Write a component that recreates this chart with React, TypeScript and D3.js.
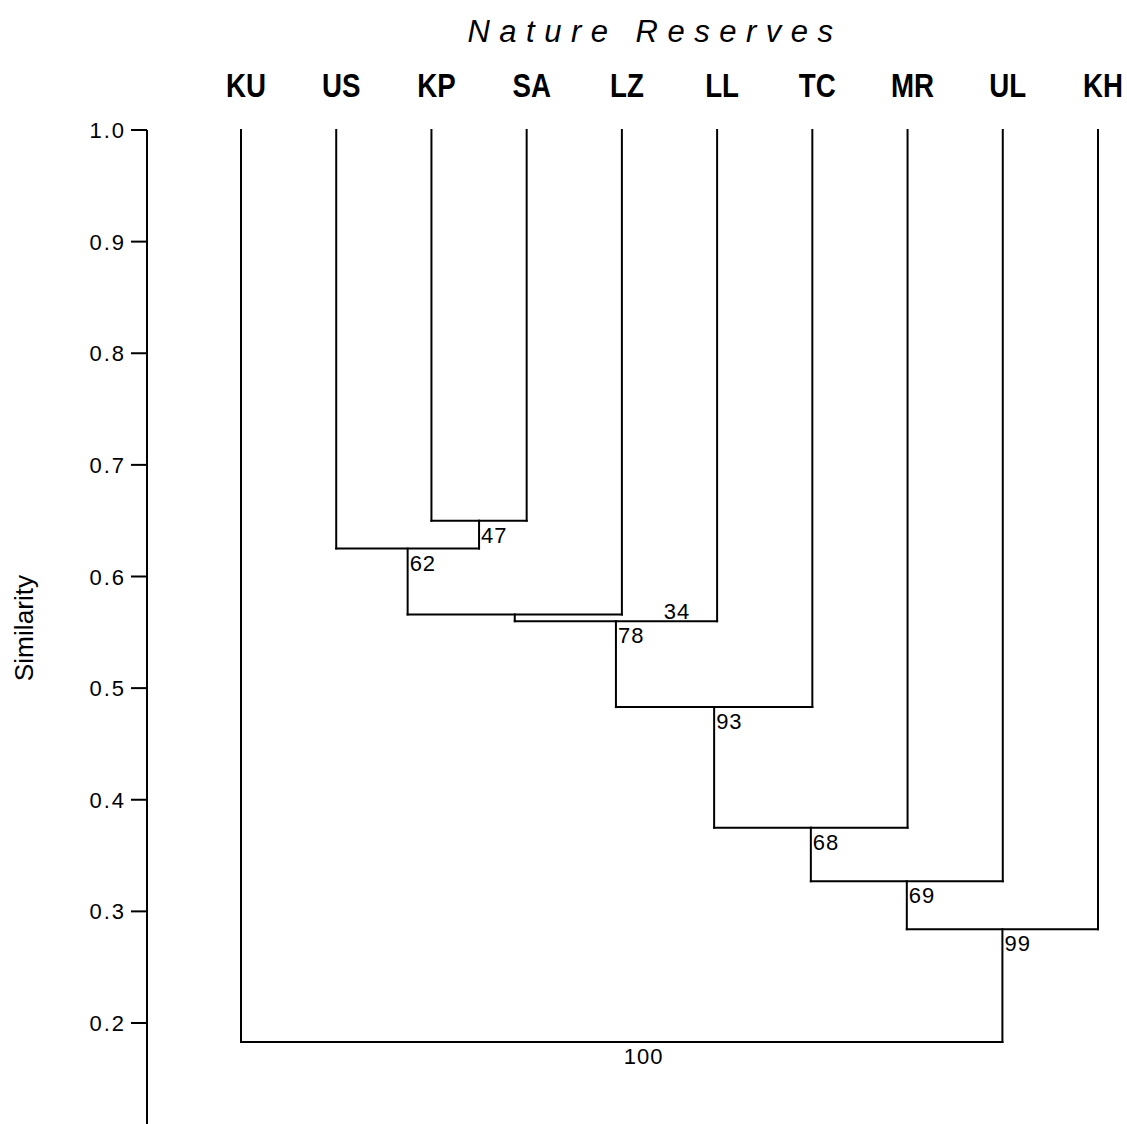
import React from 'react';
import * as d3 from 'd3';

// leaf order along the top
const leaves = ["KU", "US", "KP", "SA", "LZ", "LL", "TC", "MR", "UL", "KH"];

// agglomeration steps: node n{i} is created by step i
const mergeLeft = ["KP", "US", "n1", "n2", "n3", "n4", "n5", "n6", "KU"];
const mergeRight = ["SA", "n0", "LZ", "LL", "TC", "MR", "UL", "KH", "n7"];
const mergeSimilarity = [0.650, 0.625, 0.566, 0.560, 0.483, 0.375, 0.327, 0.284, 0.183];
const bootstrap = [47, 62, 34, 78, 93, 68, 69, 99, 100];

const yTicks = [1.0, 0.9, 0.8, 0.7, 0.6, 0.5, 0.4, 0.3, 0.2];

const width = 1127;
const height = 1124;

const App = () => {
  const x = d3.scalePoint<string>().domain(leaves).range([241, 1098]);
  const y = d3.scaleLinear().domain([1.0, 0.2]).range([130, 1023]);

  // positions of leaves and internal nodes
  const pos: Record<string, { x: number; y: number }> = {};
  leaves.forEach(l => { pos[l] = { x: x(l) as number, y: y(1.0) }; });

  const segments: { x1: number; y1: number; x2: number; y2: number }[] = [];
  const labels: { x: number; y: number; text: string }[] = [];

  mergeLeft.forEach((a, i) => {
    const b = mergeRight[i];
    const my = y(mergeSimilarity[i]);
    const pa = pos[a], pb = pos[b];
    segments.push({ x1: pa.x, y1: pa.y, x2: pa.x, y2: my });
    segments.push({ x1: pb.x, y1: pb.y, x2: pb.x, y2: my });
    segments.push({ x1: pa.x, y1: my, x2: pb.x, y2: my });
    const nx = (pa.x + pb.x) / 2;
    pos["n" + i] = { x: nx, y: my };
    // the 34 label was pushed aside in the original to avoid the next link
    const shift = bootstrap[i] === 34 ? [147, -17] : [0, 0];
    labels.push({ x: nx + 2 + shift[0], y: my + 22 + shift[1], text: String(bootstrap[i]) });
  });

  const axisX = 147;
  const sans = 'Liberation Sans, Arial, sans-serif';

  return (
    <svg width={width} height={height}
      style={{ position: 'absolute', left: 0, top: 0, background: '#fff' }}>
      <rect width={width} height={height} fill="#fff" />
      <text x={655} y={42} textAnchor="middle"
        style={{ fontFamily: sans, fontStyle: 'italic', fontSize: 31, letterSpacing: 9.5 }}>
        Nature Reserves
      </text>

      {leaves.map(l => (
        <text key={l} transform={`translate(${(x(l) as number) + 5},97) scale(0.84,1)`} textAnchor="middle"
          style={{ fontFamily: sans, fontWeight: 'bold', fontSize: 33 }}>
          {l}
        </text>
      ))}

      {/* y axis */}
      <line x1={axisX} y1={y(1.0)} x2={axisX} y2={height} stroke="#000" strokeWidth={2} />
      {yTicks.map(t => (
        <g key={t}>
          <line x1={131} y1={y(t)} x2={axisX} y2={y(t)} stroke="#000" strokeWidth={2} />
          <text x={126} y={y(t) + 8} textAnchor="end"
            style={{ fontFamily: sans, fontSize: 22, letterSpacing: 2 }}>
            {t.toFixed(1)}
          </text>
        </g>
      ))}
      <text transform={`translate(33,628) rotate(-90) scale(1.05,1)`} textAnchor="middle"
        style={{ fontFamily: sans, fontSize: 25 }}>
        Similarity
      </text>

      {/* dendrogram */}
      {segments.map((s, i) => (
        <line key={i} x1={s.x1} y1={s.y1} x2={s.x2} y2={s.y2}
          stroke="#000" strokeWidth={2} strokeLinecap="square" />
      ))}
      {labels.map((d, i) => (
        <text key={i} x={d.x} y={d.y}
          style={{ fontFamily: sans, fontSize: 22, letterSpacing: 1 }}>
          {d.text}
        </text>
      ))}
    </svg>
  );
};

export default App;
